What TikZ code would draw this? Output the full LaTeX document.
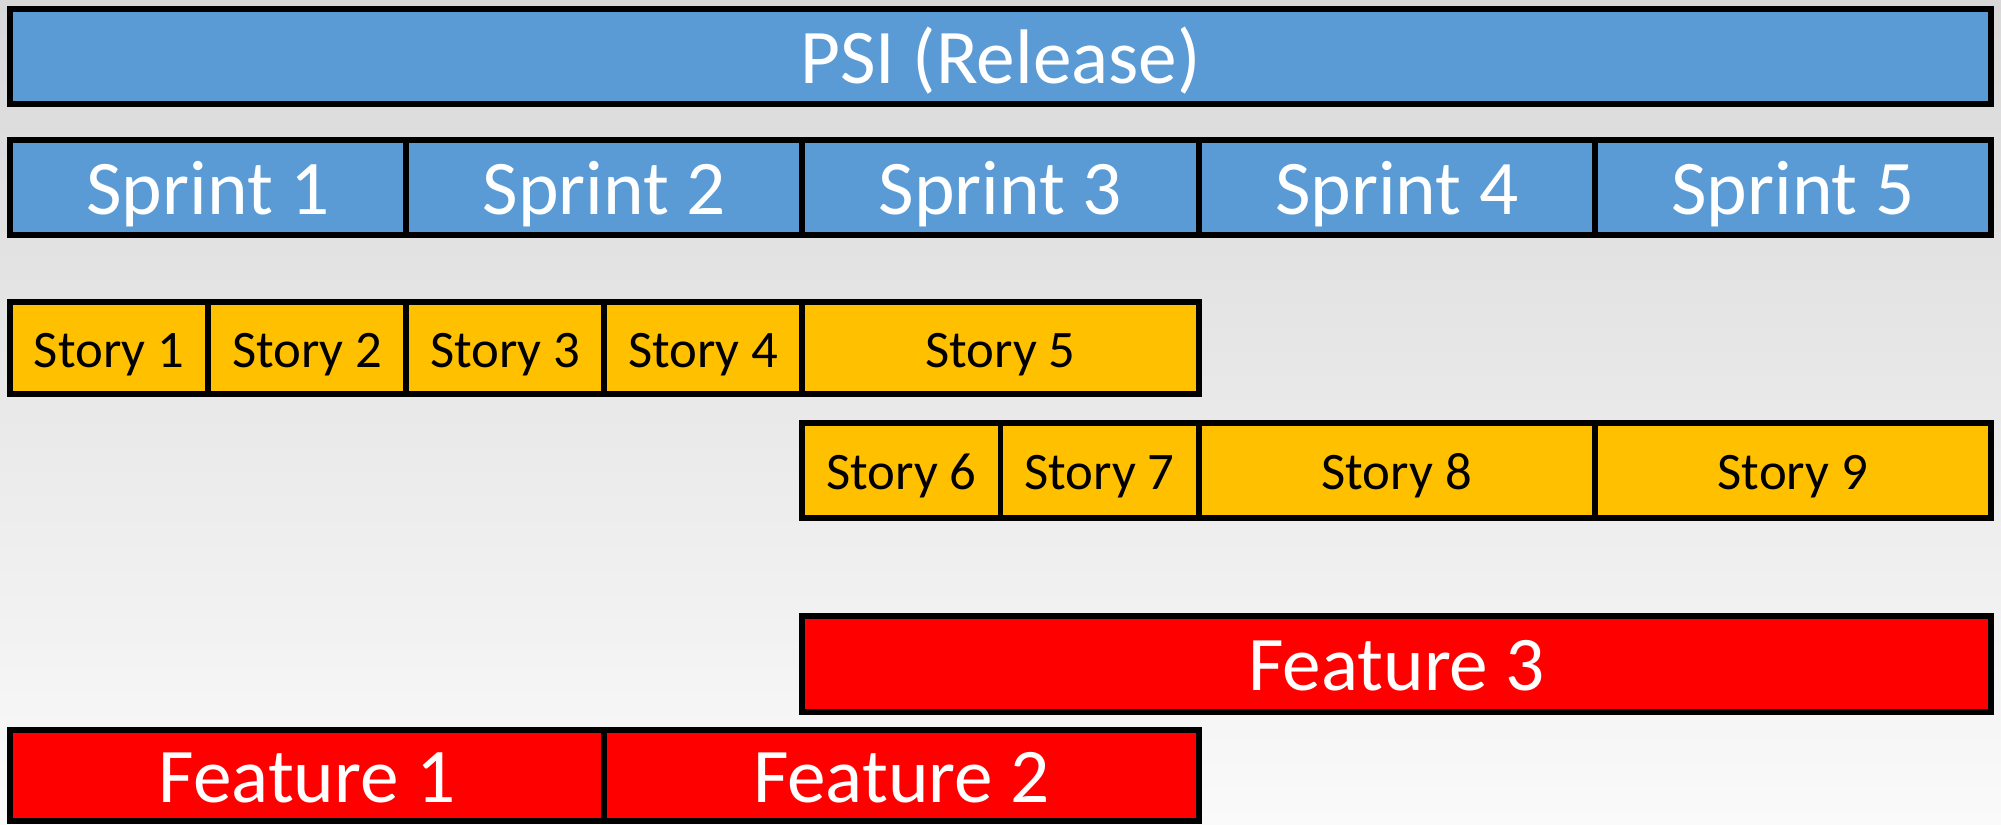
\documentclass[tikz,border=0pt]{standalone}
\usepackage{fontspec}
\setmainfont{Carlito}
\definecolor{sprintblue}{RGB}{91,155,213}
\definecolor{storyyellow}{RGB}{255,192,0}
\definecolor{featurered}{RGB}{255,0,0}
\definecolor{bgtop}{RGB}{216,216,216}
\definecolor{bgbottom}{RGB}{250,250,250}

\begin{document}
\begin{tikzpicture}[x=0.1mm,y=-0.1mm,
  box/.style={draw=black,line width=1.7pt,inner sep=0pt,text depth=0pt},
  big/.style={box,text=white,font=\fontsize{22}{26}\selectfont,text height=15.3pt},
  small/.style={box,fill=storyyellow,text=black,font=\fontsize{15}{18}\selectfont,text height=10.9pt},
]
\useasboundingbox (0,0) rectangle (2001,824);
\shade [top color=bgtop,bottom color=bgbottom] (0,0) rectangle (2001,824);
% release and sprints
\node (psi) at (1000.5,56.5) [big,fill=sprintblue,minimum width=198.1mm,minimum height=9.5mm] {PSI (Release)};
\node (sprint1) at (208.1,187.5) [big,fill=sprintblue,minimum width=39.62mm,minimum height=9.5mm] {Sprint 1};
\node (sprint2) at (604.3,187.5) [big,fill=sprintblue,minimum width=39.62mm,minimum height=9.5mm] {Sprint 2};
\node (sprint3) at (1000.5,187.5) [big,fill=sprintblue,minimum width=39.62mm,minimum height=9.5mm] {Sprint 3};
\node (sprint4) at (1396.7,187.5) [big,fill=sprintblue,minimum width=39.62mm,minimum height=9.5mm] {Sprint 4};
\node (sprint5) at (1792.9,187.5) [big,fill=sprintblue,minimum width=39.62mm,minimum height=9.5mm] {Sprint 5};
% stories
\node (story1) at (109.05,348) [small,minimum width=19.81mm,minimum height=9.25mm] {Story 1};
\node (story2) at (307.15,348) [small,minimum width=19.81mm,minimum height=9.25mm] {Story 2};
\node (story3) at (505.25,348) [small,minimum width=19.81mm,minimum height=9.25mm] {Story 3};
\node (story4) at (703.35,348) [small,minimum width=19.81mm,minimum height=9.25mm] {Story 4};
\node (story5) at (1000.5,348) [small,minimum width=39.62mm,minimum height=9.25mm] {Story 5};
\node (story6) at (901.45,470.5) [small,minimum width=19.81mm,minimum height=9.5mm] {Story 6};
\node (story7) at (1099.55,470.5) [small,minimum width=19.81mm,minimum height=9.5mm] {Story 7};
\node (story8) at (1396.7,470.5) [small,minimum width=39.62mm,minimum height=9.5mm] {Story 8};
\node (story9) at (1792.9,470.5) [small,minimum width=39.62mm,minimum height=9.5mm] {Story 9};
% features
\node (feature3) at (1396.7,664) [big,fill=featurered,minimum width=118.86mm,minimum height=9.6mm] {Feature 3};
\node (feature1) at (307.15,775.5) [big,fill=featurered,minimum width=59.43mm,minimum height=9.1mm] {Feature 1};
\node (feature2) at (901.45,775.5) [big,fill=featurered,minimum width=59.43mm,minimum height=9.1mm] {Feature 2};
\end{tikzpicture}
\end{document}
